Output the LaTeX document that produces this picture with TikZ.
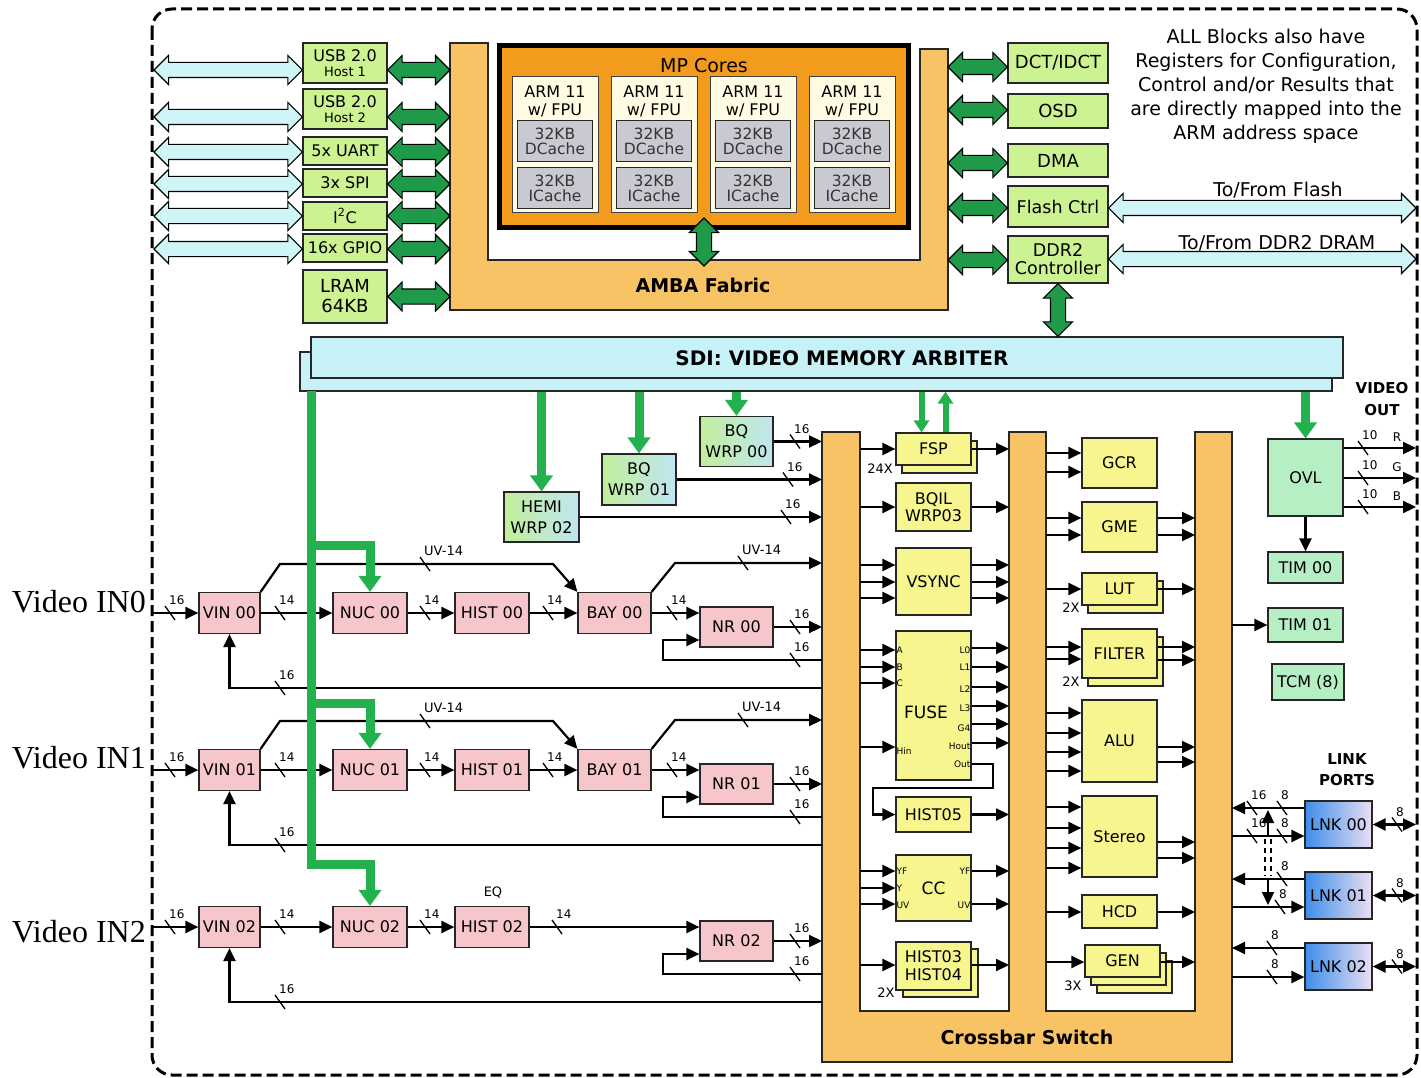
\documentclass[tikz,border=0pt]{standalone}
\usepackage{fontspec}
\setmainfont{DejaVu Sans}
\newfontfamily\vidfont{Liberation Serif}
\usetikzlibrary{positioning,arrows.meta,calc,shapes.arrows}
\definecolor{perigreen}{HTML}{CDF291}
\definecolor{busgreen}{HTML}{1F9A48}
\definecolor{sdigreen}{HTML}{22B14C}
\definecolor{ambaorange}{HTML}{F8C365}
\definecolor{mporange}{HTML}{F29B1D}
\definecolor{extcyan}{HTML}{CFF5F8}
\definecolor{sdicyan}{HTML}{C6F1F6}
\definecolor{pixpink}{HTML}{F7C6CB}
\definecolor{procyel}{HTML}{F6F58E}
\definecolor{outgreen}{HTML}{B7EFC5}
\definecolor{lnkblue}{HTML}{3D8EEA}
\definecolor{lnklilac}{HTML}{EBDFF2}
\definecolor{wrpgreen}{HTML}{C2EE9A}
\definecolor{wrpcyan}{HTML}{BFE6F2}
\definecolor{cachegray}{HTML}{C9C9D1}
\definecolor{corecream}{HTML}{FFFCE3}
\newcommand\fsz[1]{\fontsize{#1}{#1}\selectfont}
% bus width tick and its label
\newcommand\bus[4][12]{\draw[line width=1.3pt] (#2-5,#3-7) -- (#2+5,#3+7);
  \node[font=\fsz{#1},anchor=south west,inner sep=0pt] at (#2-1,#3-8) {#4};}
% fat outlined double arrow from one point to another
\newcommand\fatarrow[4][0]{\path let \p1=(#3),\p2=(#4),\n1={veclen(\x2-\x1,\y2-\y1)} in
  node[#2,rotate=#1,minimum height=\n1] at ($(\p1)!.5!(\p2)$) {};}
% straight wires at given heights
\newcommand\feed[3]{\foreach \py in {#3}{\draw[arr] (#1 |- 0,\py) -- (#2 |- 0,\py);}}

\begin{document}
\begin{tikzpicture}[x=1pt,y=-1pt,
    box/.style={draw=black!85,line width=1.2pt,inner sep=0pt,align=center},
    per/.style={box,fill=perigreen,minimum width=84pt,font=\fsz{16}},
    pix/.style={box,fill=pixpink,minimum height=41pt,font=\fsz{16}},
    proc/.style={box,fill=procyel,minimum width=75pt,font=\fsz{16}},
    wrp/.style={box,left color=wrpgreen,right color=wrpcyan,font=\fontsize{16}{21}\selectfont},
    outb/.style={box,fill=outgreen,font=\fsz{16}},
    lnk/.style={box,left color=lnkblue,right color=lnklilac,minimum width=67pt,minimum height=47pt,font=\fsz{16}},
    core/.style={draw=black!75,line width=1pt,fill=corecream,minimum width=86pt,minimum height=136pt},
    cache/.style={box,line width=1pt,fill=cachegray,minimum width=75pt,minimum height=41pt,text=black!80,font=\fontsize{15.5}{15}\selectfont},
    fabricshape/.style={draw=black!85,line width=1.5pt,fill=ambaorange},
    fat/.style={double arrow,draw=black,line width=1.1pt,inner xsep=0pt,inner ysep=7pt,double arrow head extend=7pt,double arrow tip angle=90,minimum width=28pt},
    garr/.style={fat,fill=busgreen},
    carr/.style={fat,fill=extcyan},
    wire/.style={line width=2.2pt},
    arr/.style={wire,-{Triangle[length=13pt,width=12pt]}},
    arr2/.style={wire,{Triangle[length=13pt,width=12pt]}-{Triangle[length=13pt,width=12pt]}},
    gline/.style={draw=sdigreen,line width=9pt,-{Triangle[length=16pt,width=22pt]}},
    port/.style={font=\fsz{9},inner sep=1pt},
    heading/.style={font=\bfseries\fsz{19}}]
  \fill[white] (0,0) rectangle (1421,1078);
  \useasboundingbox (0,0) rectangle (1421,1078);
  \draw[line width=3pt,dash pattern=on 11pt off 5pt,rounded corners=20pt] (152,9) rectangle (1417,1075);
  \coordinate (bordL) at (154,0);
  \coordinate (bordR) at (1416,0);

  % AMBA fabric and cores
  \draw[fabricshape] (450,43) -- (488,43) -- (488,260) -- (920,260) -- (920,49) -- (948,49) -- (948,310) -- (450,310) -- cycle;
  \coordinate (ambaL) at (450,0);
  \coordinate (ambaR) at (948,0);
  \node[heading] (ambaT) at (703,285) {AMBA Fabric};
  \node[draw=black,line width=5pt,fill=mporange,minimum width=409pt,minimum height=182pt] (mp) at (704,136.5) {};
  \foreach \i in {0,...,3}{
    \node[core] (arm\i) at (555+99*\i,145) {};
    \node[font=\fontsize{16}{18}\selectfont,align=center] (armT\i) at (555+99*\i,101) {ARM 11\\w/ FPU};
    \node[cache] (dc\i) at (555+99*\i,141.5) {32KB\\DCache};
    \node[cache] (ic\i) at (555+99*\i,188.5) {32KB\\ICache};
  }
  \node[font=\fsz{19}] (mpT) at (704,66) {MP Cores};
  \fatarrow[90]{garr}{$(mp.south)+(0,-12)$}{mp.south |- 0,266}

  % peripherals
  \node[per,minimum height=40pt,font=\fontsize{16}{15}\selectfont] (usb1) at (345,63) {USB 2.0\\{\fsz{13}Host 1}};
  \node[per,minimum height=40pt,font=\fontsize{16}{15}\selectfont] (usb2) at (345,109) {USB 2.0\\{\fsz{13}Host 2}};
  \node[per,minimum height=28pt] (uart) at (345,151) {5x UART};
  \node[per,minimum height=28pt] (spi) at (345,183) {3x SPI};
  \node[per,minimum height=28pt] (iic) at (345,216) {I\textsuperscript{2}C};
  \node[per,minimum height=28pt] (gpio) at (345,248) {16x GPIO};
  \node[per,minimum height=53pt,font=\fontsize{18}{20}\selectfont] (lram) at (345,296.5) {LRAM\\64KB};
  \foreach \nd/\py in {usb1/70,usb2/117,uart/152,spi/184,iic/216,gpio/249}{
    \fatarrow{carr}{bordL |- 0,\py}{\nd.west |- 0,\py}
    \fatarrow{garr}{\nd.east |- 0,\py}{ambaL |- 0,\py}
  }
  \fatarrow{garr}{lram.east}{lram.east -| ambaL}

  \node[per,minimum width=100pt,minimum height=40pt,font=\fsz{18}] (dct) at (1058,63) {DCT/IDCT};
  \node[per,minimum width=100pt,minimum height=34pt,font=\fsz{18}] (osd) at (1058,111) {OSD};
  \node[per,minimum width=100pt,minimum height=33pt,font=\fsz{18}] (dma) at (1058,160.5) {DMA};
  \node[per,minimum width=100pt,minimum height=41pt,font=\fsz{17.5}] (flash) at (1058,206.5) {Flash Ctrl};
  \node[per,minimum width=100pt,minimum height=47pt,font=\fontsize{17.5}{18}\selectfont] (ddr) at (1058,259.5) {DDR2\\Controller};
  \foreach \nd/\py in {dct/67,osd/110,dma/163,flash/208,ddr/260}{
    \fatarrow{garr}{ambaR |- 0,\py}{\nd.west |- 0,\py}
  }
  \fatarrow{carr}{flash.east |- 0,208}{bordR |- 0,208}
  \fatarrow{carr}{ddr.east |- 0,259}{bordR |- 0,259}
  \node[font=\fsz{19}] (toflash) at (1278,190) {To/From Flash};
  \node[font=\fsz{19}] (toddr) at (1277,243) {To/From DDR2 DRAM};
  \node[font=\fontsize{19}{24}\selectfont,align=center] (note) at (1266,86) {ALL Blocks also have\\Registers for Configuration,\\Control and/or Results that\\are directly mapped into the\\ARM address space};

  % video memory arbiter
  \node[box,fill=sdicyan,minimum width=1032pt,minimum height=39pt] (sdiB) at (816,371.5) {};
  \node[box,fill=sdicyan,minimum width=1032pt,minimum height=41pt] (sdiF) at (827,357.5) {};
  \node[heading,font=\bfseries\fsz{20}] (sdiT) at (842,358) {SDI: VIDEO MEMORY ARBITER};
  \fatarrow[90]{garr}{ddr.south}{ddr.south |- sdiF.north}

  % crossbar switch
  \draw[fabricshape] (822,432) -- (860,432) -- (860,1011) -- (1009,1011) -- (1009,432) -- (1046,432) -- (1046,1011) -- (1195,1011) -- (1195,432) -- (1232,432) -- (1232,1062) -- (822,1062) -- cycle;
  \coordinate (xbIn) at (822,0);
  \coordinate (xbA) at (860,0);
  \coordinate (xbB) at (1009,0);
  \coordinate (xbC) at (1046,0);
  \coordinate (xbD) at (1195,0);
  \coordinate (xbE) at (1232,0);
  \node[heading] (xbT) at (1027,1037) {Crossbar Switch};

  \node[proc,minimum height=32pt] (fspS) at (939.5,457) {};
  \node[proc,minimum height=32pt] (fsp) at (933.5,449) {FSP};
  \node[proc,minimum height=48pt,font=\fontsize{16}{17}\selectfont] (bqil) at (933.5,507) {BQIL\\WRP03};
  \node[proc,minimum height=67pt] (vsync) at (933.5,581.5) {VSYNC};
  \node[proc,minimum height=149pt] (fuse) at (933.5,705.5) {};
  \node[font=\fsz{17}] (fuseT) at (926,712) {FUSE};
  \node[proc,minimum height=35pt] (hist5) at (933.5,814.5) {HIST05};
  \node[proc,minimum height=66pt,font=\fsz{17}] (cc) at (933.5,888) {CC};
  \node[proc,minimum height=48pt] (hist34S) at (940.5,973) {};
  \node[proc,minimum height=48pt,font=\fontsize{16}{18}\selectfont] (hist34) at (933.5,966) {HIST03\\HIST04};
  \foreach \lab/\py in {A/650,B/667,C/683,Hin/751}{\node[port,anchor=west] at (fuse.west |- 0,\py) {\lab};}
  \foreach \lab/\py in {L0/650,L1/667,L2/689,L3/708,G4/728,Hout/746,Out/764}{\node[port,anchor=east] at (fuse.east |- 0,\py) {\lab};}
  \foreach \lab/\py in {YF/871,Y/888,UV/905}{\node[port,anchor=west] at (cc.west |- 0,\py) {\lab};}
  \foreach \lab/\py in {YF/871,UV/905}{\node[port,anchor=east] at (cc.east |- 0,\py) {\lab};}

  \node[proc,minimum height=50pt] (gcr) at (1119.5,463) {GCR};
  \node[proc,minimum height=50pt] (gme) at (1119.5,527) {GME};
  \node[proc,minimum height=32pt] (lutS) at (1125.5,597) {};
  \node[proc,minimum height=32pt] (lut) at (1119.5,589) {LUT};
  \node[proc,minimum height=49pt] (filterS) at (1125.5,661.5) {};
  \node[proc,minimum height=49pt] (filter) at (1119.5,653.5) {FILTER};
  \node[proc,minimum height=82pt] (alu) at (1119.5,741) {ALU};
  \node[proc,minimum height=81pt] (stereo) at (1119.5,836.5) {Stereo};
  \node[proc,minimum height=33pt] (hcd) at (1119.5,911.5) {HCD};
  \node[proc,minimum height=32pt] (genS2) at (1134.5,977) {};
  \node[proc,minimum height=32pt] (genS1) at (1128.5,969) {};
  \node[proc,minimum height=32pt] (gen) at (1122.5,961) {GEN};
  \node[font=\fsz{13}] (n24) at (880,469) {24X};
  \node[font=\fsz{13}] (n2a) at (1071,608) {2X};
  \node[font=\fsz{13}] (n2b) at (1071,682) {2X};
  \node[font=\fsz{13}] (n2c) at (886,993) {2X};
  \node[font=\fsz{13}] (n3) at (1073,986) {3X};

  \feed{xbA}{fsp.west}{449}
  \feed{xbA}{bqil.west}{507}
  \feed{xbA}{vsync.west}{565,582,598}
  \feed{xbA}{fuse.west}{650,667,683,747}
  \feed{xbA}{cc.west}{871,888,904}
  \feed{xbA}{hist34.west}{965}
  \feed{fsp.east}{xbB}{449}
  \feed{bqil.east}{xbB}{507}
  \feed{vsync.east}{xbB}{565,582,598}
  \feed{fuse.east}{xbB}{648,667,687,706,724,743}
  \feed{hist5.east}{xbB}{814.5}
  \feed{cc.east}{xbB}{871,904}
  \feed{hist34.east}{xbB}{965}
  \draw[arr] (fuse.east |- 0,764) -- (993,764) -- (993,788) -- (873,788) |- (hist5.west);
  \feed{xbC}{gcr.west}{453,472}
  \feed{xbC}{gme.west}{518,535}
  \feed{xbC}{lut.west}{589}
  \feed{xbC}{filter.west}{647,659}
  \feed{xbC}{alu.west}{713,733,752,771}
  \feed{xbC}{stereo.west}{807,828,848,868}
  \feed{xbC}{hcd.west}{912}
  \feed{xbC}{gen.west}{962}
  \feed{gme.east}{xbD}{518,535}
  \feed{lut.east}{xbD}{589}
  \feed{filter.east}{xbD}{647,660}
  \feed{alu.east}{xbD}{747,762}
  \feed{stereo.east}{xbD}{842,858}
  \feed{hcd.east}{xbD}{912}
  \feed{gen.east}{xbD}{962}

  % wrappers
  \node[wrp,minimum width=73pt,minimum height=50pt] (bq0) at (736.5,441.5) {BQ\\WRP 00};
  \node[wrp,minimum width=74pt,minimum height=51pt] (bq1) at (639,479.5) {BQ\\WRP 01};
  \node[wrp,minimum width=75pt,minimum height=50pt] (hemi) at (541.5,517) {HEMI\\WRP 02};
  \draw[arr] (bq0.east) -- (bq0.east -| xbIn); \bus{795}{441.5}{16}
  \draw[arr] (bq1.east) -- (bq1.east -| xbIn); \bus{788}{479.5}{16}
  \draw[arr] (hemi.east) -- (hemi.east -| xbIn); \bus{786}{517}{16}

  % video input pipelines
  \foreach \r/\py/\bl in {0/613/612,1/770/768,2/927/942}{
    \node[pix,minimum width=61pt] (vin\r) at (229.5,\py) {VIN 0\r};
    \node[pix,minimum width=74pt] (nuc\r) at (370,\py) {NUC 0\r};
    \node[pix,minimum width=74pt] (hist\r) at (492,\py) {HIST 0\r};
    \node[pix,minimum width=73pt,minimum height=40pt] (nr\r) at (736.5,\py+14) {NR 0\r};
    \node[font=\vidfont\fsz{32},anchor=base east,inner sep=0pt] (vlab\r) at (146,\bl) {Video IN\r};
    \coordinate (pin\r) at (153,\py);
    \draw[arr] (pin\r) -- (vin\r.west); \bus{170}{\py}{16}
    \draw[arr] (vin\r) -- (nuc\r); \bus{280}{\py}{14}
    \draw[arr] (nuc\r) -- (hist\r); \bus{425}{\py}{14}
    \draw[arr] (nr\r.east) -- (nr\r.east -| xbIn); \bus{795}{\py+14}{16}
    \draw[arr] (xbIn |- 0,\py+47) -- (663,\py+47) |- (nr\r.west |- 0,\py+27); \bus{795}{\py+47}{16}
    \draw[arr] (xbIn |- 0,\py+75) -| (vin\r.south); \bus{280}{\py+75}{16}
  }
  \foreach \r/\py in {0/613,1/770}{
    \node[pix,minimum width=73pt] (bay\r) at (614.5,\py) {BAY 0\r};
    \draw[arr] (hist\r) -- (bay\r); \bus{548}{\py}{14}
    \draw[arr] (bay\r.east) -- (nr\r.west |- bay\r.east); \bus{672}{\py}{14}
    \draw[arr] (vin\r.north east) -- (280,\py-49) -- (553,\py-49) -- (bay\r.north west); \bus[13]{425}{\py-49}{UV-14}
    \draw[arr] (bay\r.north east) -- (675,\py-50) -- (xbIn |- 0,\py-50); \bus[13]{743}{\py-50}{UV-14}
  }
  \draw[arr] (hist2.east) -- (nr2.west |- hist2.east); \bus{557}{927}{14}
  \node[font=\fsz{13}] (eq) at (493,893) {EQ};

  % outputs
  \node[outb,minimum width=75pt,minimum height=77pt] (ovl) at (1305.5,477.5) {OVL};
  \node[outb,minimum width=75pt,minimum height=31pt] (tim0) at (1305.5,567.5) {TIM 00};
  \node[outb,minimum width=75pt,minimum height=34pt] (tim1) at (1305.5,625) {TIM 01};
  \node[outb,minimum width=72pt,minimum height=36pt] (tcm) at (1308,682) {TCM (8)};
  \draw[arr] (ovl) -- (tim0);
  \draw[arr] (xbE |- tim1.west) -- (tim1.west);
  \foreach \lab/\py in {R/448,G/478,B/507}{
    \draw[arr] (ovl.east |- 0,\py) -- (bordR |- 0,\py); \bus{1363}{\py}{10}
    \node[font=\fsz{12}] at (1397,\py-11) {\lab};
  }
  \node[font=\bfseries\fontsize{15}{22}\selectfont,align=center] (vout) at (1382,399) {VIDEO\\OUT};

  % link ports
  \node[lnk] (lnk0) at (1338.5,824.5) {LNK 00};
  \node[lnk] (lnk1) at (1338.5,895.5) {LNK 01};
  \node[lnk] (lnk2) at (1338.5,966.5) {LNK 02};
  \node[font=\bfseries\fontsize{15}{21}\selectfont,align=center] (lports) at (1347,769.5) {LINK\\PORTS};
  \draw[arr] (lnk0.west |- 0,808) -- (xbE |- 0,808); \bus{1252}{808}{16} \bus{1282}{808}{8}
  \draw[arr] (xbE |- 0,836) -- (lnk0.west |- 0,836); \bus{1252}{836}{16} \bus{1282}{836}{8}
  \draw[arr] (lnk1.west |- 0,879) -- (xbE |- 0,879); \bus{1282}{879}{8}
  \draw[arr] (xbE |- 0,907) -- (lnk1.west |- 0,907); \bus{1280}{907}{8}
  \draw[arr] (lnk2.west |- 0,948) -- (xbE |- 0,948); \bus{1272}{948}{8}
  \draw[arr] (xbE |- 0,977) -- (lnk2.west |- 0,977); \bus{1272}{977}{8}
  \foreach \nd/\py in {lnk0/824.5,lnk1/895.5,lnk2/966.5}{
    \draw[arr2] (\nd.east) -- (\nd.east -| bordR); \bus{1397}{\py}{8}
  }
  \coordinate (swapA) at (1268,836);
  \coordinate (swapB) at (1268,879);
  \draw[arr] (swapA) -- ++(0,-26);
  \draw[arr] (swapB) -- ++(0,26);
  \draw[line width=1.2pt,dash pattern=on 5pt off 4pt] ($(swapA)+(-3,3)$) -- ($(swapB)+(-3,-3)$) ($(swapA)+(3,3)$) -- ($(swapB)+(3,-3)$);

  % memory arbiter ports
  \coordinate (trunk) at (311,391);
  \draw[gline] (trunk) -- (311,864) -| (nuc2.north);
  \draw[gline] (311,545) -| (nuc0.north);
  \draw[gline] (311,703) -| (nuc1.north);
  \draw[gline] (sdiB.south -| hemi) -- (hemi.north);
  \draw[gline] (sdiB.south -| bq1) -- (bq1.north);
  \draw[gline] (sdiB.south -| bq0) -- (bq0.north);
  \draw[gline] (sdiB.south -| ovl) -- (ovl.north);
  \coordinate (fspIn) at ($(fsp.north)+(-12,0)$);
  \coordinate (fspOut) at ($(fsp.north)+(12,0)$);
  \draw[gline,line width=6pt,-{Triangle[length=12pt,width=15pt]}] (fspIn |- sdiB.south) -- (fspIn);
  \draw[gline,line width=6pt,-{Triangle[length=12pt,width=15pt]}] (fspOut) -- (fspOut |- sdiB.south);
\end{tikzpicture}
\end{document}
